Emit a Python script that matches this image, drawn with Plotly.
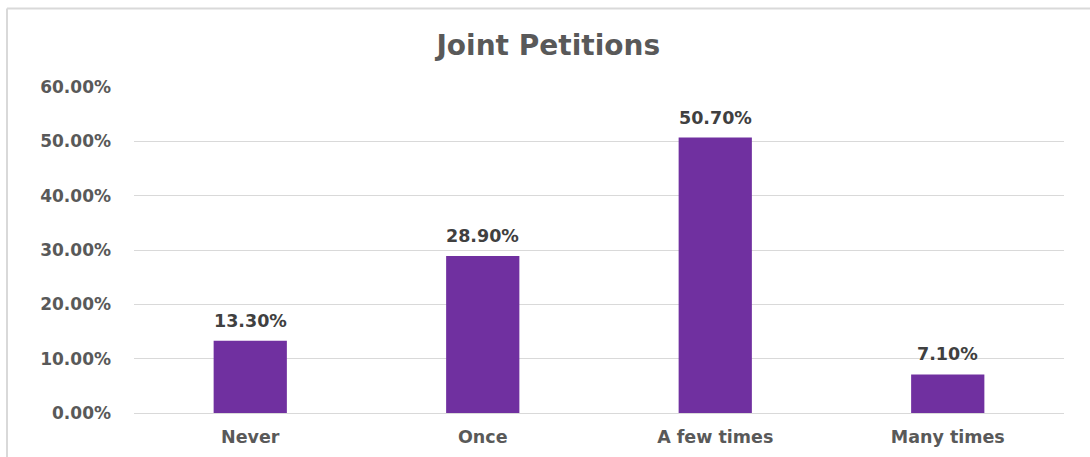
import plotly.graph_objects as go

categories = ["Never", "Once", "A few times", "Many times"]
values = [0.133, 0.289, 0.507, 0.071]
labels = ["13.30%", "28.90%", "50.70%", "7.10%"]
tick_vals = [0, 0.1, 0.2, 0.3, 0.4, 0.5, 0.6]
tick_text = ["0.00%", "10.00%", "20.00%", "30.00%", "40.00%", "50.00%", "60.00%"]

FONT = "DejaVu Sans"

fig = go.Figure()
fig.add_trace(go.Bar(
    x=categories, y=values, width=0.315,
    marker=dict(color="#7030A0", line=dict(width=0)),
    hoverinfo="skip",
))

for c, v, t in zip(categories, values, labels):
    fig.add_annotation(
        x=c, y=v, text=f"<b>{t}</b>", showarrow=False,
        yanchor="bottom", yshift=8,
        font=dict(family=FONT, size=17.5, color="#404040"),
    )

L, R, T, B = 134, 26, 87, 44
W, H = 1090, 457
pw, ph = W - L - R, H - T - B

def px(x):
    return (x - L) / pw

def py(y):
    return (H - B - y) / ph

fig.add_shape(type="line", xref="paper", yref="paper",
              x0=px(7), x1=px(1095), y0=py(8.5), y1=py(8.5),
              line=dict(color="#d9d9d9", width=2))
fig.add_shape(type="line", xref="paper", yref="paper",
              x0=px(7), x1=px(7), y0=py(8.5), y1=py(462),
              line=dict(color="#d9d9d9", width=2))

fig.update_layout(
    width=W, height=H,
    margin=dict(l=L, r=R, t=T, b=B),
    paper_bgcolor="white", plot_bgcolor="white",
    showlegend=False,
    title=dict(text="<b>Joint Petitions</b>", x=0.503, xanchor="center",
               xref="container", yref="container", y=1 - 45 / H, yanchor="middle",
               font=dict(family=FONT, size=28, color="#595959")),
    xaxis=dict(
        showgrid=False, showline=False, zeroline=False, ticks="",
        automargin=False,
        tickfont=dict(family=FONT, size=17.5, color="#595959", weight="bold"),
        ticklabelstandoff=11,
    ),
    yaxis=dict(
        range=[0, 0.6], tickvals=tick_vals, ticktext=tick_text,
        automargin=False,
        showgrid=True, gridcolor="#d9d9d9", gridwidth=1,
        zeroline=True, zerolinecolor="#d9d9d9", zerolinewidth=1,
        showline=False, ticks="",
        tickfont=dict(family=FONT, size=17, color="#595959", weight="bold"),
        ticklabelstandoff=22,
    ),
)

fig.write_html("out.html")
